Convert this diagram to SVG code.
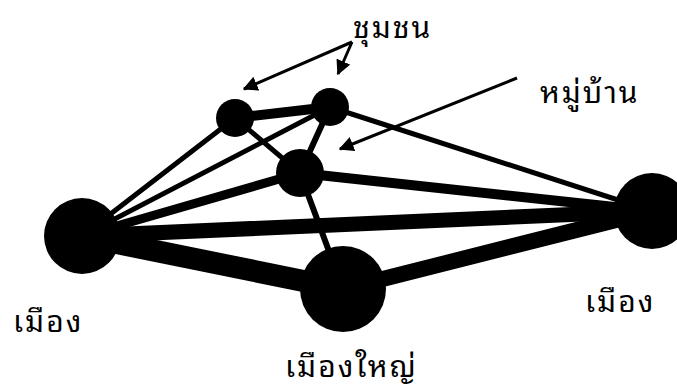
<svg xmlns="http://www.w3.org/2000/svg" width="677" height="388" viewBox="0 0 677 388">
<style>
.lbl{font-family:"Noto Sans Thai Looped","Noto Serif Thai","Noto Sans Thai","Tahoma","DejaVu Sans",sans-serif;font-size:30px;letter-spacing:2px;fill:#000}
.e{stroke:#000;stroke-linecap:round;fill:none}
.ar{stroke:#000;stroke-width:3;fill:none;marker-end:url(#ah)}
.n{fill:#000}
</style>
<defs>
<marker id="ah" viewBox="0 0 10 10" refX="9" refY="5" markerWidth="5" markerHeight="5" orient="auto" markerUnits="strokeWidth">
<path d="M0,0 L10,5 L0,10 z" fill="#000"/>
</marker>
</defs>
<rect width="677" height="388" fill="#fff"/>
<g id="connectors">
<line class="e" x1="82" y1="236" x2="235" y2="118" stroke-width="5"/>
<line class="e" x1="82" y1="236" x2="330" y2="107" stroke-width="5"/>
<line class="e" x1="82" y1="236" x2="300" y2="173" stroke-width="9"/>
<line class="e" x1="82" y1="236" x2="652" y2="211" stroke-width="15"/>
<line class="e" x1="82" y1="236" x2="343" y2="289" stroke-width="22"/>
<line class="e" x1="235" y1="118" x2="330" y2="107" stroke-width="10"/>
<line class="e" x1="235" y1="118" x2="300" y2="173" stroke-width="5"/>
<line class="e" x1="330" y1="107" x2="300" y2="173" stroke-width="6"/>
<line class="e" x1="330" y1="107" x2="652" y2="211" stroke-width="5"/>
<line class="e" x1="300" y1="173" x2="652" y2="211" stroke-width="10"/>
<line class="e" x1="300" y1="173" x2="343" y2="289" stroke-width="6"/>
<line class="e" x1="343" y1="289" x2="652" y2="211" stroke-width="16"/>
<line class="ar" x1="352" y1="42" x2="244" y2="89"/>
<line class="ar" x1="352" y1="42" x2="338" y2="74"/>
<line class="ar" x1="517" y1="78" x2="340" y2="149"/>
</g>
<g id="node-a"><circle class="n" cx="235" cy="118" r="19"/></g>
<g id="node-b"><circle class="n" cx="330" cy="107" r="19"/></g>
<g id="node-c"><circle class="n" cx="300" cy="173" r="24"/></g>
<g id="node-left"><circle class="n" cx="82" cy="236" r="38"/></g>
<g id="node-right"><circle class="n" cx="652" cy="211" r="38"/></g>
<g id="node-bottom"><circle class="n" cx="343" cy="289" r="43"/></g>
<g id="labels">
<text class="lbl" x="353" y="38">ชุมชน</text>
<text class="lbl" x="540" y="103">หมู่บ้าน</text>
<text class="lbl" x="13" y="332">เมือง</text>
<text class="lbl" x="585" y="312">เมือง</text>
<text class="lbl" x="285" y="377">เมืองใหญ่</text>
</g>
</svg>
